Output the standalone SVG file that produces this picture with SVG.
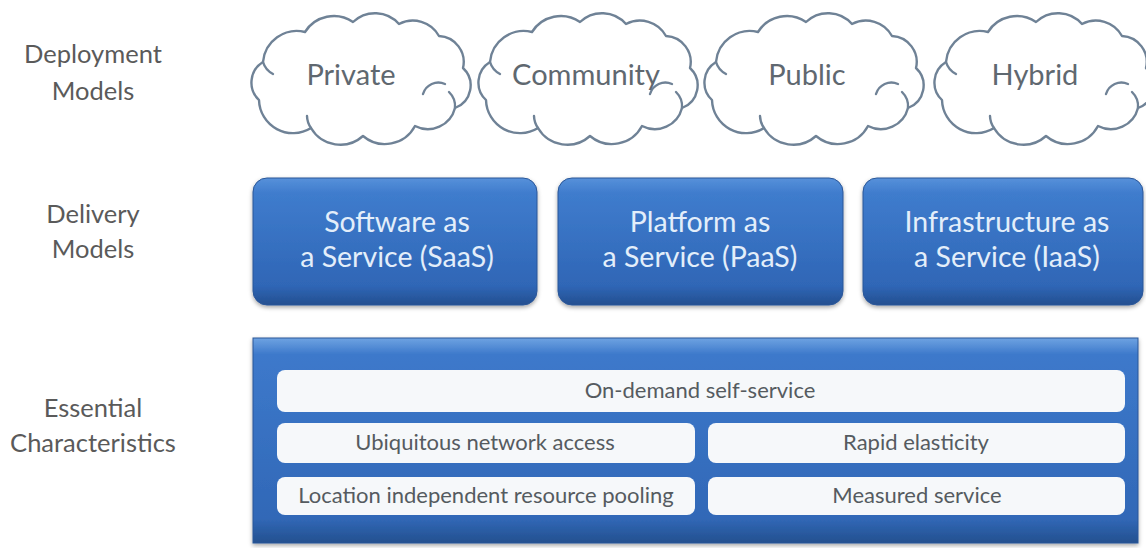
<svg xmlns="http://www.w3.org/2000/svg" width="1146" height="548" viewBox="0 0 1146 548">
<defs>
<style>
.lbl{font-family:Lato,"Open Sans","Liberation Sans",sans-serif;font-size:25.5px;fill:#5a5a5a;text-anchor:middle}
.cloud{fill:#ffffff;stroke:#6f8296;stroke-width:2.4;stroke-linejoin:round}
.curl{fill:none;stroke:#6f8296;stroke-width:2.4;stroke-linecap:round}
.ctext{font-family:Lato,"Open Sans","Liberation Sans",sans-serif;font-size:29px;fill:#5f6870;text-anchor:middle}
.btext{font-family:Lato,"Open Sans","Liberation Sans",sans-serif;font-size:28.5px;fill:#e3eefa;text-anchor:middle}
.row{fill:#f6f8fa}
.rtext{font-family:Lato,"Open Sans","Liberation Sans",sans-serif;font-size:22px;fill:#555b60;text-anchor:middle}
</style>
<linearGradient id="gBox" x1="0" y1="0" x2="0" y2="1">
<stop offset="0" stop-color="#5791da"/>
<stop offset="0.12" stop-color="#3f7ccd"/>
<stop offset="0.85" stop-color="#2f66b6"/>
<stop offset="1" stop-color="#244f90"/>
</linearGradient>
<linearGradient id="gBig" x1="0" y1="0" x2="0" y2="1">
<stop offset="0" stop-color="#6ea3e2"/>
<stop offset="0.08" stop-color="#3d79cb"/>
<stop offset="0.88" stop-color="#3168b7"/>
<stop offset="1" stop-color="#24508f"/>
</linearGradient>
<filter id="sh" x="-5%" y="-5%" width="110%" height="115%">
<feDropShadow dx="0" dy="2" stdDeviation="2" flood-color="#000" flood-opacity="0.35"/>
</filter>
<g id="cloudShape">
<path class="cloud" d="M10,92 A24,24 0 0 1 14,54 A34,34 0 0 1 56,24 A34,34 0 0 1 104,14 A32,32 0 0 1 150,16 A30,30 0 0 1 190,28 A26,26 0 0 1 214,60 A24,24 0 0 1 206,100 A28,28 0 0 1 166,118 A34,34 0 0 1 114,128 A34,34 0 0 1 62,120 A34,34 0 0 1 10,92 Z"/>
<path class="curl" d="M14,54 A20,20 0 0 0 24,66"/>
<path class="curl" d="M174,86 A16,16 0 0 1 196,76"/>
<path class="curl" d="M206,100 A20,20 0 0 0 200,84"/>
<path class="curl" d="M62,120 A22,22 0 0 1 58,108"/>
</g>
</defs>
<rect width="1146" height="548" fill="#ffffff"/>

<g id="labels">
<text class="lbl" x="93" y="63">Deployment</text>
<text class="lbl" x="93" y="100">Models</text>
<text class="lbl" x="93" y="223">Delivery</text>
<text class="lbl" x="93" y="258">Models</text>
<text class="lbl" x="93" y="417">Essential</text>
<text class="lbl" x="93" y="452">Characteristics</text>
</g>

<g id="cloud-private">
<use href="#cloudShape" transform="translate(249,8)"/>
<text class="ctext" x="351" y="85">Private</text>
</g>
<g id="cloud-community">
<use href="#cloudShape" transform="translate(476,8)"/>
<text class="ctext" x="586" y="85">Community</text>
</g>
<g id="cloud-public">
<use href="#cloudShape" transform="translate(702,8)"/>
<text class="ctext" x="807" y="85">Public</text>
</g>
<g id="cloud-hybrid">
<use href="#cloudShape" transform="translate(932,8)"/>
<text class="ctext" x="1035" y="85">Hybrid</text>
</g>

<g id="saas">
<rect x="253" y="178" width="284" height="127" rx="14" fill="url(#gBox)" stroke="#2a5698" stroke-width="1" filter="url(#sh)"/>
<text class="btext" x="397" y="232">Software as</text>
<text class="btext" x="397" y="267">a Service (SaaS)</text>
</g>
<g id="paas">
<rect x="558" y="178" width="285" height="127" rx="14" fill="url(#gBox)" stroke="#2a5698" stroke-width="1" filter="url(#sh)"/>
<text class="btext" x="700" y="232">Platform as</text>
<text class="btext" x="700" y="267">a Service (PaaS)</text>
</g>
<g id="iaas">
<rect x="863" y="178" width="280" height="127" rx="14" fill="url(#gBox)" stroke="#2a5698" stroke-width="1" filter="url(#sh)"/>
<text class="btext" x="1007" y="232">Infrastructure as</text>
<text class="btext" x="1007" y="267">a Service (IaaS)</text>
</g>

<g id="essential">
<rect x="253" y="338" width="885" height="205" fill="url(#gBig)" stroke="#2a5698" stroke-width="1" filter="url(#sh)"/>
<rect class="row" x="277" y="370" width="848" height="42" rx="8"/>
<text class="rtext" x="700" y="398">On-demand self-service</text>
<rect class="row" x="277" y="423" width="418" height="40" rx="8"/>
<text class="rtext" x="485" y="450">Ubiquitous network access</text>
<rect class="row" x="708" y="423" width="417" height="40" rx="8"/>
<text class="rtext" x="916" y="450">Rapid elasticity</text>
<rect class="row" x="277" y="477" width="418" height="38" rx="8"/>
<text class="rtext" x="486" y="503">Location independent resource pooling</text>
<rect class="row" x="708" y="477" width="417" height="38" rx="8"/>
<text class="rtext" x="917" y="503">Measured service</text>
</g>
</svg>
